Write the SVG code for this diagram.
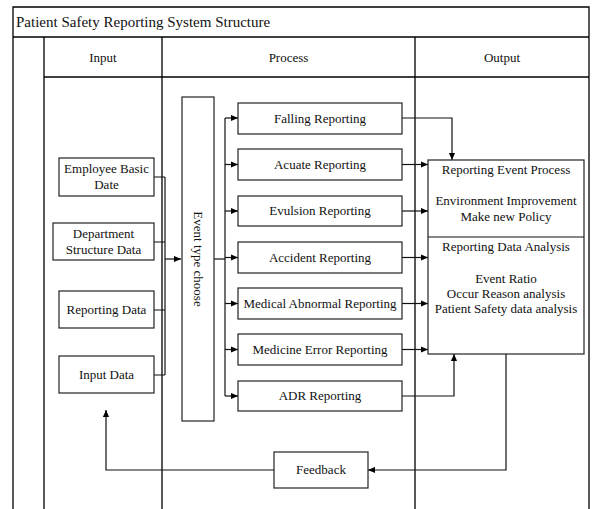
<svg xmlns="http://www.w3.org/2000/svg" width="594" height="509" viewBox="0 0 594 509">
<defs>
<marker id="ah" viewBox="0 0 8 8" refX="8" refY="4" markerWidth="7" markerHeight="7" markerUnits="userSpaceOnUse" orient="auto"><path d="M0,0.5 L8,4 L0,7.5 z" fill="#000"/></marker>
<style>
.frame{fill:none;stroke:#000;stroke-width:1.3}
.box{fill:#fff;stroke:#222;stroke-width:1.2}
.t{font-family:"Liberation Serif","Times New Roman",serif;font-size:13px;fill:#111;text-anchor:middle}
.c{fill:none;stroke:#111;stroke-width:1.2}
.a{fill:none;stroke:#111;stroke-width:1.2;marker-end:url(#ah)}
</style>
</defs>
<rect width="594" height="509" fill="#fff"/>
<g id="frame">
<path class="frame" d="M13,509 V7 H589 V509 M13,37 H589 M44,37 V509 M162,37 V509 M415,37 V509 M44,77 H589"/>
<text x="16" y="27" style="font-family:'Liberation Serif','Times New Roman',serif;font-size:15px;fill:#111">Patient Safety Reporting System Structure</text>
<text class="t" x="103" y="62">Input</text>
<text class="t" x="288.5" y="62">Process</text>
<text class="t" x="502" y="62">Output</text>
</g>
<g id="connectors">
<path class="c" d="M154,177 H165 M154,242 H165 M154,310 H165 M154,375 H165 M165,177 V375"/>
<path class="a" d="M165,259 H181" stroke-width="2"/>
<path class="c" d="M214,259 H225" stroke-width="2.2"/>
<path class="c" d="M225,118 V396"/>
<path class="a" d="M225,118 H238"/>
<path class="a" d="M225,164.5 H238"/>
<path class="a" d="M225,211 H238"/>
<path class="a" d="M225,257.5 H238"/>
<path class="a" d="M225,303.5 H238"/>
<path class="a" d="M225,349.5 H238"/>
<path class="a" d="M225,396 H238"/>
<path class="a" d="M402,118 H452 V160"/>
<path class="a" d="M402,164.5 H428"/>
<path class="a" d="M402,211 H428"/>
<path class="a" d="M402,257.5 H428"/>
<path class="a" d="M402,303.5 H428"/>
<path class="a" d="M402,349.5 H428"/>
<path class="a" d="M402,396 H454 V354"/>
<path class="a" d="M506,354 V470 H368"/>
<path class="a" d="M274,470 H106 V410"/>
</g>
<g id="employee"><rect class="box" x="59" y="158" width="95" height="38"/><text class="t" x="106.5" y="173">Employee Basic</text><text class="t" x="106.5" y="189">Date</text></g>
<g id="department"><rect class="box" x="53" y="223" width="101" height="37"/><text class="t" x="103.5" y="238">Department</text><text class="t" x="103.5" y="254">Structure Data</text></g>
<g id="reportingdata"><rect class="box" x="59" y="291" width="95" height="37"/><text class="t" x="106.5" y="314">Reporting Data</text></g>
<g id="inputdata"><rect class="box" x="59" y="356" width="95" height="37"/><text class="t" x="106.5" y="379">Input Data</text></g>
<g id="eventtype"><rect class="box" x="182" y="97" width="32" height="324"/><text class="t" transform="translate(194,259) rotate(90)" x="0" y="0">Event type choose</text></g>
<g id="falling"><rect class="box" x="238" y="103" width="164" height="31"/><text class="t" x="320" y="123">Falling Reporting</text></g>
<g id="acuate"><rect class="box" x="238" y="149" width="164" height="31"/><text class="t" x="320" y="169">Acuate Reporting</text></g>
<g id="evulsion"><rect class="box" x="238" y="196" width="164" height="30"/><text class="t" x="320" y="215">Evulsion Reporting</text></g>
<g id="accident"><rect class="box" x="238" y="242" width="164" height="31"/><text class="t" x="320" y="262">Accident Reporting</text></g>
<g id="medical"><rect class="box" x="238" y="288" width="164" height="31"/><text class="t" x="320" y="308">Medical Abnormal Reporting</text></g>
<g id="medicine"><rect class="box" x="238" y="334" width="164" height="31"/><text class="t" x="320" y="354">Medicine Error Reporting</text></g>
<g id="adr"><rect class="box" x="238" y="381" width="164" height="30"/><text class="t" x="320" y="400">ADR Reporting</text></g>
<g id="output"><rect class="box" x="428" y="160" width="156" height="194"/><path class="c" d="M428,237 H584"/>
<text class="t" x="506" y="174">Reporting Event Process</text>
<text class="t" x="506" y="205">Environment Improvement</text>
<text class="t" x="506" y="221">Make new Policy</text>
<text class="t" x="506" y="251">Reporting Data Analysis</text>
<text class="t" x="506" y="283">Event Ratio</text>
<text class="t" x="506" y="298">Occur Reason analysis</text>
<text class="t" x="506" y="313">Patient Safety data analysis</text>
</g>
<g id="feedback"><rect class="box" x="274" y="452" width="94" height="36"/><text class="t" x="321" y="474">Feedback</text></g>
</svg>
